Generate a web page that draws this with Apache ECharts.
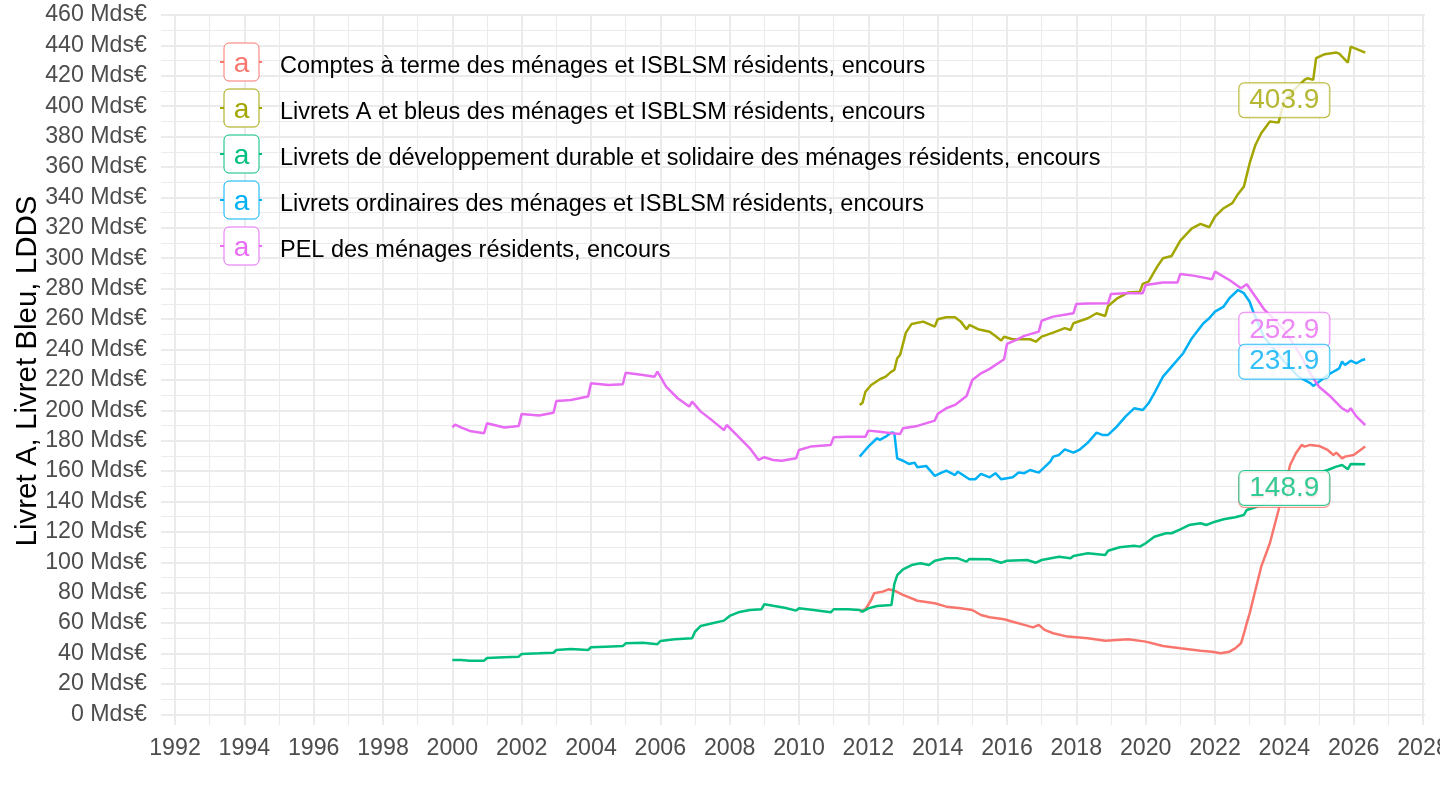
<!DOCTYPE html>
<html>
<head>
<meta charset="utf-8">
<script src="https://cdn.jsdelivr.net/npm/echarts@6/dist/echarts.min.js"></script>
<style>
  html, body { margin: 0; padding: 0; background: #fff; }
  #chart { width: 1440px; height: 810px; }
</style>
</head>
<body>
<div id="chart"></div>
<script>
const FONT = 'Liberation Sans, Arial, Helvetica, sans-serif';

const names = [
  'Comptes à terme des ménages et ISBLSM résidents, encours',
  'Livrets A et bleus des ménages et ISBLSM résidents, encours',
  'Livrets de développement durable et solidaire des ménages résidents, encours',
  'Livrets ordinaires des ménages et ISBLSM résidents, encours',
  'PEL des ménages résidents, encours'
];
const colors = ['#F8766D', '#A3A500', '#00BF7D', '#00B0F6', '#E76BF3'];

// encours en Mds€
const comptesTerme = [
  ['2011-10', 67.5], ['2011-12', 69.1], ['2012-02', 75.2], ['2012-03', 79.6], ['2012-06', 80.7],
  ['2012-08', 82.2], ['2012-10', 81.3], ['2013-01', 78.5], ['2013-06', 74.7], ['2013-12', 73.0],
  ['2014-04', 70.8], ['2014-09', 69.7], ['2015-01', 68.6], ['2015-04', 65.3], ['2015-07', 63.8],
  ['2015-12', 62.5], ['2016-03', 60.9], ['2016-07', 58.8], ['2016-10', 57.2], ['2016-12', 58.8],
  ['2017-02', 55.5], ['2017-05', 53.3], ['2017-10', 51.1], ['2018-05', 50.0], ['2018-11', 48.4],
  ['2019-07', 49.3], ['2020-01', 47.8], ['2020-07', 44.9], ['2021-01', 43.4], ['2021-08', 41.8],
  ['2021-12', 41.2], ['2022-03', 40.1], ['2022-06', 41.2], ['2022-08', 43.4], ['2022-10', 46.7],
  ['2022-11', 53.0], ['2022-12', 60.0], ['2023-01', 66.4], ['2023-03', 81.8], ['2023-05', 97.1],
  ['2023-08', 112.5], ['2023-11', 134.4], ['2023-12', 142.0], ['2024-01', 147.6], ['2024-02', 156.0],
  ['2024-03', 164.0], ['2024-05', 171.7], ['2024-07', 177.2], ['2024-08', 176.1], ['2024-10', 177.2],
  ['2025-01', 176.5], ['2025-04', 173.9], ['2025-06', 170.6], ['2025-07', 172.1], ['2025-09', 168.4],
  ['2025-10', 169.5], ['2026-01', 170.6], ['2026-03', 173.4], ['2026-05', 176.1]
];

const livretA = [
  ['2011-10', 203.5], ['2011-11', 205.0], ['2011-12', 212.2], ['2012-02', 216.6], ['2012-05', 220.4],
  ['2012-07', 222.1], ['2012-09', 225.4], ['2012-10', 226.5], ['2012-11', 234.2], ['2012-12', 236.4],
  ['2013-02', 251.1], ['2013-04', 256.8], ['2013-08', 258.3], ['2013-12', 255.0], ['2014-01', 259.9],
  ['2014-04', 261.2], ['2014-07', 261.2], ['2014-09', 258.3], ['2014-11', 253.3], ['2014-12', 256.1],
  ['2015-03', 253.3], ['2015-07', 251.7], ['2015-09', 248.9], ['2015-11', 245.8], ['2015-12', 248.4],
  ['2016-03', 246.7], ['2016-09', 246.7], ['2016-11', 245.1], ['2017-01', 248.4], ['2017-05', 251.1],
  ['2017-09', 254.0], ['2017-11', 252.8], ['2017-12', 257.2], ['2018-05', 260.5], ['2018-08', 263.8],
  ['2018-11', 262.0], ['2018-12', 268.6], ['2019-03', 273.4], ['2019-07', 277.5], ['2019-11', 278.0],
  ['2019-12', 283.1], ['2020-02', 284.6], ['2020-05', 294.5], ['2020-07', 300.0], ['2020-10', 301.5],
  ['2021-01', 311.6], ['2021-05', 319.7], ['2021-08', 322.6], ['2021-11', 320.4], ['2022-01', 327.4],
  ['2022-04', 332.9], ['2022-07', 336.2], ['2022-09', 342.3], ['2022-11', 347.1], ['2023-01', 362.5],
  ['2023-03', 374.5], ['2023-05', 382.2], ['2023-08', 389.9], ['2023-11', 389.2], ['2024-01', 403.9],
  ['2024-04', 410.0], ['2024-08', 417.3], ['2024-09', 418.4], ['2024-11', 417.3], ['2024-12', 431.6],
  ['2025-03', 434.2], ['2025-07', 435.3], ['2025-08', 434.6], ['2025-11', 428.7], ['2025-12', 439.2],
  ['2026-05', 435.3]
];

const ldds = [
  ['2000-01', 35.7], ['2000-04', 35.7], ['2000-07', 35.3], ['2000-12', 35.3], ['2001-01', 37.0],
  ['2001-07', 37.5], ['2001-12', 37.9], ['2002-01', 39.7], ['2002-07', 40.1], ['2002-12', 40.5],
  ['2003-01', 42.3], ['2003-06', 43.0], ['2003-12', 42.3], ['2004-01', 44.1], ['2004-06', 44.5],
  ['2004-12', 44.9], ['2005-01', 46.7], ['2005-07', 47.1], ['2005-12', 46.1], ['2006-01', 48.2],
  ['2006-06', 49.3], ['2006-12', 50.0], ['2007-01', 54.3], ['2007-03', 58.1], ['2007-07', 59.9],
  ['2007-11', 61.6], ['2008-01', 64.7], ['2008-04', 67.1], ['2008-08', 68.6], ['2008-12', 69.1],
  ['2009-01', 72.4], ['2009-04', 71.4], ['2009-08', 70.1], ['2009-12', 68.2], ['2010-01', 69.7],
  ['2010-06', 68.6], ['2010-12', 67.1], ['2011-01', 69.1], ['2011-06', 69.1], ['2011-10', 68.6],
  ['2011-11', 67.5], ['2012-01', 69.7], ['2012-04', 71.2], ['2012-09', 71.9], ['2012-10', 85.7],
  ['2012-11', 91.6], ['2013-01', 95.4], ['2013-04', 98.2], ['2013-07', 99.3], ['2013-10', 98.2],
  ['2013-12', 101.0], ['2014-04', 102.6], ['2014-08', 102.6], ['2014-11', 100.4], ['2014-12', 102.2],
  ['2015-07', 102.0], ['2015-11', 99.7], ['2016-01', 101.0], ['2016-08', 101.5], ['2016-11', 99.7],
  ['2017-01', 101.5], ['2017-07', 103.7], ['2017-11', 102.6], ['2017-12', 104.1], ['2018-05', 105.9],
  ['2018-11', 104.8], ['2018-12', 107.6], ['2019-04', 109.9], ['2019-09', 110.9], ['2019-11', 110.3],
  ['2020-01', 112.5], ['2020-04', 116.8], ['2020-08', 119.1], ['2020-10', 119.1], ['2021-01', 121.7],
  ['2021-04', 124.5], ['2021-08', 125.7], ['2021-10', 124.5], ['2022-01', 126.7], ['2022-04', 128.3],
  ['2022-08', 129.6], ['2022-11', 131.1], ['2022-12', 134.4], ['2023-06', 138.0], ['2024-01', 148.9],
  ['2024-06', 155.0], ['2025-01', 159.0], ['2025-04', 160.7], ['2025-07', 162.9], ['2025-09', 164.0],
  ['2025-11', 161.2], ['2025-12', 164.7], ['2026-05', 164.5]
];

const livretsOrd = [
  ['2011-10', 169.5], ['2011-11', 171.7], ['2012-01', 176.1], ['2012-04', 181.6], ['2012-05', 180.5],
  ['2012-07', 182.6], ['2012-09', 185.3], ['2012-10', 185.0], ['2012-11', 168.4], ['2013-01', 166.8],
  ['2013-03', 164.7], ['2013-05', 165.5], ['2013-06', 162.5], ['2013-09', 163.4], ['2013-12', 156.8],
  ['2014-02', 158.6], ['2014-04', 160.3], ['2014-07', 157.4], ['2014-08', 159.6], ['2014-12', 154.6],
  ['2015-02', 154.6], ['2015-04', 158.1], ['2015-07', 155.9], ['2015-09', 158.6], ['2015-11', 154.6],
  ['2016-03', 155.9], ['2016-05', 159.0], ['2016-07', 158.6], ['2016-09', 160.7], ['2016-12', 159.0],
  ['2017-04', 166.2], ['2017-05', 169.5], ['2017-07', 170.6], ['2017-09', 174.3], ['2017-12', 172.1],
  ['2018-02', 173.9], ['2018-05', 178.7], ['2018-08', 185.3], ['2018-10', 183.8], ['2018-12', 183.8],
  ['2019-03', 189.2], ['2019-06', 195.8], ['2019-09', 201.3], ['2019-12', 200.2], ['2020-02', 204.6],
  ['2020-04', 211.2], ['2020-07', 222.1], ['2020-10', 228.7], ['2021-02', 237.5], ['2021-05', 247.4],
  ['2021-09', 257.2], ['2021-11', 260.5], ['2022-01', 264.9], ['2022-04', 268.2], ['2022-06', 273.7],
  ['2022-09', 279.1], ['2022-11', 277.0], ['2023-01', 271.4], ['2023-02', 266.0], ['2023-06', 248.0],
  ['2024-01', 231.9], ['2024-06', 222.0], ['2024-10', 217.8], ['2024-11', 216.0], ['2025-01', 218.8],
  ['2025-04', 223.2], ['2025-08', 227.6], ['2025-09', 232.0], ['2025-10', 229.8], ['2025-12', 232.6],
  ['2026-02', 230.9], ['2026-04', 233.1], ['2026-05', 233.6]
];

const pel = [
  ['2000-01', 188.8], ['2000-02', 190.5], ['2000-04', 188.8], ['2000-07', 186.4], ['2000-12', 184.9],
  ['2001-01', 191.4], ['2001-07', 188.6], ['2001-12', 189.7], ['2002-01', 197.6], ['2002-07', 196.5],
  ['2002-12', 198.4], ['2003-01', 206.1], ['2003-06', 206.8], ['2003-12', 209.0], ['2004-01', 217.8],
  ['2004-07', 216.6], ['2004-12', 217.1], ['2005-01', 224.7], ['2005-07', 223.2], ['2005-11', 222.1],
  ['2005-12', 225.4], ['2006-03', 215.5], ['2006-07', 207.9], ['2006-11', 202.4], ['2006-12', 205.7],
  ['2007-03', 199.1], ['2007-07', 193.2], ['2007-11', 187.0], ['2007-12', 190.3], ['2008-04', 182.6],
  ['2008-08', 175.0], ['2008-11', 167.3], ['2009-01', 169.1], ['2009-04', 167.3], ['2009-07', 166.8],
  ['2009-12', 168.4], ['2010-01', 173.9], ['2010-05', 176.1], ['2010-12', 177.2], ['2011-01', 182.2],
  ['2011-06', 182.6], ['2011-12', 182.6], ['2012-01', 186.6], ['2012-05', 185.9], ['2012-09', 184.9],
  ['2012-12', 184.4], ['2013-01', 188.2], ['2013-06', 189.7], ['2013-12', 193.2], ['2014-01', 197.6],
  ['2014-04', 201.3], ['2014-07', 203.5], ['2014-11', 209.4], ['2015-01', 219.9], ['2015-04', 224.3],
  ['2015-07', 227.2], ['2015-12', 233.6], ['2016-01', 243.6], ['2016-04', 246.2], ['2016-07', 248.9],
  ['2016-12', 251.7], ['2017-01', 258.9], ['2017-05', 261.6], ['2017-12', 263.8], ['2018-01', 269.9],
  ['2018-05', 270.3], ['2018-12', 270.4], ['2019-01', 276.5], ['2019-06', 276.9], ['2019-12', 277.0],
  ['2020-01', 282.4], ['2020-07', 284.0], ['2020-12', 284.0], ['2021-01', 289.7], ['2021-06', 288.4],
  ['2021-12', 286.2], ['2022-01', 291.2], ['2022-06', 285.7], ['2022-10', 280.3], ['2022-12', 282.9],
  ['2023-03', 274.7], ['2023-06', 266.4], ['2024-01', 252.9], ['2024-07', 235.0], ['2024-10', 224.0],
  ['2025-01', 215.5], ['2025-05', 209.0], ['2025-09', 201.3], ['2025-11', 199.1], ['2025-12', 201.3],
  ['2026-02', 195.8], ['2026-05', 190.3]
];

// étiquettes affichées à la même date pour chaque série
const labelDate = '2024-01';
const labelValues = [147.6, 403.9, 148.9, 231.9, 252.9];

const allSeries = [comptesTerme, livretA, ldds, livretsOrd, pel];

function toYear(d) {
  const [y, m] = d.split('-').map(Number);
  return y + (m - 1) / 12;
}

const chart = echarts.init(document.getElementById('chart'));

const lineSeries = allSeries.map((rows, i) => ({
  name: names[i],
  type: 'line',
  xAxisIndex: 0,
  yAxisIndex: 0,
  data: rows.map(r => [toYear(r[0]), r[1]]),
  showSymbol: false,
  symbol: 'none',
  silent: true,
  z: 2,
  lineStyle: { color: colors[i], width: 2.5 },
  itemStyle: { color: colors[i] }
}));

// ordre d'empilement des étiquettes : vert sur rouge, bleu sur rose
const labelOrder = [0, 1, 2, 4, 3];
const labelSeries = labelOrder.map((i, k) => ({
  type: 'scatter',
  xAxisIndex: 0,
  yAxisIndex: 0,
  z: 10 + k,
  symbolSize: 0,
  silent: true,
  data: [[toYear(labelDate), labelValues[i]]],
  label: {
    show: true,
    position: 'inside',
    formatter: p => p.value[1].toFixed(1),
    color: colors[i],
    fontFamily: FONT,
    fontSize: 28,
    backgroundColor: '#fff',
    borderColor: colors[i],
    borderWidth: 1,
    borderRadius: 5,
    padding: [4, 10, 2, 10]
  }
}));

const legendY0 = 62;
const legendStep = 46;
const legendItems = [];
names.forEach((n, i) => {
  const cy = legendY0 + i * legendStep;
  legendItems.push(
    { type: 'line', z: 100, shape: { x1: 220, y1: cy, x2: 262, y2: cy }, style: { stroke: colors[i], lineWidth: 2 } },
    { type: 'rect', z: 101, shape: { x: 224, y: cy - 19, width: 35, height: 38, r: 5 }, style: { fill: '#fff', stroke: colors[i], lineWidth: 1 } },
    { type: 'text', z: 102, x: 241.5, y: cy + 2.5, style: { text: 'a', fill: colors[i], fontFamily: FONT, fontSize: 28, align: 'center', verticalAlign: 'middle' } },
    { type: 'text', z: 102, x: 280, y: cy + 5, style: { text: n, fill: '#000', fontFamily: FONT, fontSize: 23.5, align: 'left', verticalAlign: 'middle' } }
  );
});

const option = {
  animation: false,
  backgroundColor: '#fff',
  textStyle: { fontFamily: FONT },
  grid: [
    { left: 161, right: 15, top: 15, bottom: 95.7, outerBoundsMode: 'none' },
    { left: 175, right: 17, top: 15, bottom: 85, outerBoundsMode: 'none' }
  ],
  xAxis: [
    { gridIndex: 0, type: 'value', min: 1991.596, max: 2028.058, show: false },
    {
      gridIndex: 1, type: 'value', min: 1992, max: 2028, interval: 2,
      axisLine: { show: false },
      axisTick: { show: false },
      axisLabel: { color: '#4D4D4D', fontSize: 23.2, margin: 12, fontFamily: FONT, formatter: v => String(v) },
      splitLine: { show: true, lineStyle: { color: '#EBEBEB', width: 2 } },
      minorTick: { show: false, splitNumber: 2 },
      minorSplitLine: { show: true, lineStyle: { color: '#EBEBEB', width: 1.1 } }
    }
  ],
  yAxis: [
    {
      gridIndex: 0, type: 'value', min: 0, max: 460, interval: 20,
      axisLine: { show: false },
      axisTick: { show: false },
      axisLabel: { color: '#4D4D4D', fontSize: 23.2, margin: 14, fontFamily: FONT, formatter: v => v + ' Mds€' },
      splitLine: { show: true, lineStyle: { color: '#EBEBEB', width: 2 } },
      minorTick: { show: false, splitNumber: 2 },
      minorSplitLine: { show: true, lineStyle: { color: '#EBEBEB', width: 1.1 } }
    },
    { gridIndex: 1, type: 'value', min: 0, max: 1, show: false }
  ],
  graphic: [
    {
      type: 'text', z: 100, x: 28, y: 371, rotation: Math.PI / 2,
      style: { text: 'Livret A, Livret Bleu, LDDS', fill: '#000', fontFamily: FONT, fontSize: 29.5, align: 'center', verticalAlign: 'middle' }
    },
    ...legendItems
  ],
  series: [...lineSeries, ...labelSeries]
};

chart.setOption(option);
</script>
</body>
</html>
